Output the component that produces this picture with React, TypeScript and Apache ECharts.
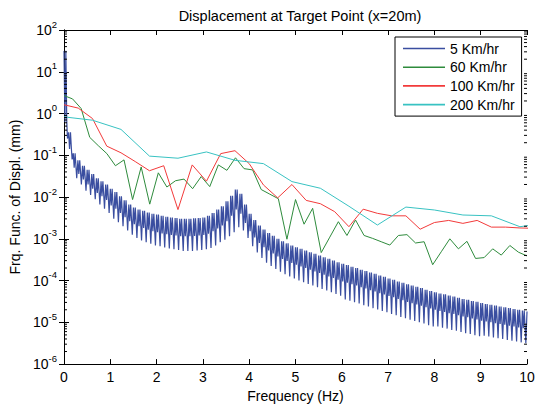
import React, { useEffect, useRef } from "react";
import * as echarts from "echarts";

// ---- Data (values stored as log10 of displacement in mm) ----
// 5 Km/hr: per 0.1 Hz period, upper edge of the band, lower edge of the band, and dip
const blueStep = 0.1;
const blueTopLog = [
  1.5, -0.45, -0.95, -1.12, -1.25, -1.35, -1.45, -1.55, -1.62, -1.7,
  -1.8, -1.88, -1.98, -2.08, -2.18, -2.25, -2.3, -2.33, -2.37, -2.4,
  -2.42, -2.45, -2.47, -2.49, -2.5, -2.52, -2.52, -2.52, -2.51, -2.5,
  -2.49, -2.45, -2.38, -2.3, -2.22, -2.1, -1.97, -1.82, -1.92, -2.18,
  -2.4, -2.55, -2.68, -2.78, -2.86, -2.93, -3.0, -3.06, -3.11, -3.16,
  -3.2, -3.24, -3.28, -3.32, -3.36, -3.4, -3.44, -3.48, -3.52, -3.56,
  -3.6, -3.63, -3.67, -3.7, -3.74, -3.77, -3.81, -3.84, -3.88, -3.91,
  -3.95, -3.98, -4.02, -4.05, -4.09, -4.12, -4.15, -4.18, -4.22, -4.25,
  -4.28, -4.31, -4.33, -4.36, -4.38, -4.41, -4.44, -4.46, -4.49, -4.51,
  -4.54, -4.56, -4.58, -4.6, -4.62, -4.64, -4.66, -4.68, -4.7, -4.72,
  -4.74,
];
const blueLowLog = [
  -0.2, -0.85, -1.3, -1.45, -1.58, -1.7, -1.8, -1.9, -1.98, -2.07,
  -2.2, -2.28, -2.38, -2.48, -2.58, -2.65, -2.7, -2.74, -2.78, -2.82,
  -2.84, -2.87, -2.89, -2.91, -2.92, -2.94, -2.94, -2.94, -2.93, -2.92,
  -2.91, -2.88, -2.82, -2.75, -2.68, -2.58, -2.45, -2.3, -2.4, -2.62,
  -2.82, -2.97, -3.1, -3.2, -3.28, -3.35, -3.42, -3.48, -3.53, -3.58,
  -3.62, -3.66, -3.7, -3.74, -3.78, -3.82, -3.86, -3.9, -3.94, -3.98,
  -4.02, -4.05, -4.09, -4.12, -4.16, -4.19, -4.23, -4.26, -4.3, -4.33,
  -4.37, -4.4, -4.44, -4.47, -4.51, -4.54, -4.57, -4.6, -4.64, -4.67,
  -4.7, -4.73, -4.75, -4.78, -4.8, -4.83, -4.86, -4.88, -4.91, -4.93,
  -4.96, -4.98, -5.0, -5.02, -5.04, -5.06, -5.08, -5.1, -5.12, -5.14,
];
const blueDipLog = [
  -0.6, -1.1, -1.55, -1.7, -1.85, -1.95, -2.05, -2.18, -2.28, -2.38,
  -2.52, -2.6, -2.7, -2.8, -2.9, -2.98, -3.04, -3.08, -3.12, -3.16,
  -3.18, -3.21, -3.23, -3.25, -3.27, -3.29, -3.29, -3.29, -3.28, -3.27,
  -3.25, -3.22, -3.16, -3.08, -3.02, -2.94, -2.84, -2.72, -2.8, -2.98,
  -3.18, -3.33, -3.46, -3.57, -3.65, -3.72, -3.79, -3.85, -3.9, -3.95,
  -4.0, -4.04, -4.08, -4.12, -4.16, -4.2, -4.24, -4.28, -4.32, -4.36,
  -4.45, -4.48, -4.52, -4.55, -4.59, -4.62, -4.66, -4.69, -4.73, -4.76,
  -4.8, -4.83, -4.87, -4.9, -4.94, -4.97, -5.0, -5.03, -5.07, -5.1,
  -5.1, -5.13, -5.15, -5.18, -5.2, -5.23, -5.26, -5.28, -5.31, -5.33,
  -5.32, -5.34, -5.36, -5.38, -5.4, -5.42, -5.44, -5.46, -5.48, -5.5,
];

// 60 Km/hr
const greenStep = 10 / 54;
const greenLog = [
  0.43, 0.35, 0.12, -0.57, -0.77, -0.96, -1.25, -1.11, -2.06, -1.28,
  -2.17, -1.42, -1.76, -1.61, -1.57, -1.8, -1.51, -1.75, -1.23, -1.36,
  -1.06, -1.32, -1.35, -1.82, -1.93, -2.04, -3.01, -2.06, -2.65, -2.27,
  -3.33, -2.96, -2.59, -2.92, -2.55, -2.92, -2.99, -3.07, -3.15, -2.92,
  -2.9, -3.1, -3.07, -3.62, -3.31, -3.0, -3.24, -3.06, -3.47, -3.45,
  -3.24, -3.39, -3.16, -3.32, -3.41,
];

// 100 Km/hr
const redStep = 4 / 13;
const redLog = [
  0.21, 0.13, -0.12, -0.78, -0.94, -1.15, -1.37, -1.25, -2.3, -1.23,
  -1.62, -0.96, -0.89, -1.2, -1.71, -2.02, -1.7, -2.08, -2.16, -2.35,
  -2.71, -2.29, -2.39, -2.45, -2.45, -2.77, -2.61, -2.56, -2.63, -2.56,
  -2.72, -2.72, -2.74, -2.75,
];

// 200 Km/hr
const cyanStep = 8 / 13;
const cyanLog = [
  -0.08, -0.16, -0.38, -1.02, -1.07, -0.92, -1.12, -1.2, -1.63, -1.79,
  -2.22, -2.67, -2.24, -2.31, -2.43, -2.45, -2.71, -2.62,
];

const seriesNames = ["5 Km/hr", "60 Km/hr", "100 Km/hr", "200 Km/hr"];
const seriesColors = ["#3a4ea0", "#2e8b3c", "#f23a3a", "#38c2c2"];
const xTicks = [0, 1, 2, 3, 4, 5, 6, 7, 8, 9, 10];
const yDecades = [-6, -5, -4, -3, -2, -1, 0, 1, 2];

const titleText = "Displacement at Target Point (x=20m)";
const xName = "Frequency (Hz)";
const yName = "Frq. Func. of Displ. (mm)";

const FONT = "'Liberation Sans', Arial, Helvetica, sans-serif";

function buildBlue(): number[][] {
  const out: number[][] = [];
  for (let k = 0; k < blueTopLog.length; k++) {
    const f = k * blueStep;
    out.push([f, Math.pow(10, blueTopLog[k])]);
    if (k < blueLowLog.length) {
      out.push([f + 0.02, Math.pow(10, blueLowLog[k])]);
      out.push([f + 0.04, Math.pow(10, blueTopLog[k])]);
      out.push([f + 0.06, Math.pow(10, blueLowLog[k])]);
      out.push([f + 0.075, Math.pow(10, blueDipLog[k])]);
    }
  }
  return out;
}

function buildStepped(step: number, logs: number[]): number[][] {
  return logs.map((v, i) => [i * step, Math.pow(10, v)]);
}

export default function App() {
  const ref = useRef<HTMLDivElement>(null);

  useEffect(() => {
    if (!ref.current) return;
    const chart = echarts.init(ref.current, undefined, { renderer: "svg" });

    const xMin = xTicks[0];
    const xMax = xTicks[xTicks.length - 1];
    const yMin = Math.pow(10, yDecades[0]);
    const yMax = Math.pow(10, yDecades[yDecades.length - 1]);

    const minorTicks: number[][] = [];
    for (let i = 0; i < yDecades.length - 1; i++) {
      for (let m = 2; m <= 9; m++) {
        minorTicks.push([xMin, m * Math.pow(10, yDecades[i])]);
      }
    }

    const labelFmt = (v: number) => {
      const e = Math.round(Math.log10(v));
      return `{b|10}{s|${e}}`;
    };

    const lineSeries = [
      { name: seriesNames[0], data: buildBlue(), width: 1.2 },
      { name: seriesNames[1], data: buildStepped(greenStep, greenLog), width: 1 },
      { name: seriesNames[2], data: buildStepped(redStep, redLog), width: 1 },
      { name: seriesNames[3], data: buildStepped(cyanStep, cyanLog), width: 1 },
    ].map((s, i) => ({
      type: "line" as const,
      name: s.name,
      data: s.data,
      symbol: "none",
      showSymbol: false,
      xAxisIndex: 0,
      yAxisIndex: 0,
      color: seriesColors[i],
      lineStyle: { color: seriesColors[i], width: s.width },
      z: 2 + (i === 0 ? 0 : 1),
      clip: true,
    }));

    const commonY = {
      type: "log" as const,
      logBase: 10,
      min: yMin,
      max: yMax,
      splitNumber: 8,
      splitLine: { show: false },
      axisLine: { show: true, lineStyle: { color: "#000", width: 1 } },
      axisTick: { show: true, inside: true, length: 5, lineStyle: { color: "#000" } },
    };
    const commonX = {
      type: "value" as const,
      min: xMin,
      max: xMax,
      interval: 1,
      splitLine: { show: false },
      axisLine: { show: true, onZero: false, lineStyle: { color: "#000", width: 1 } },
      axisTick: { show: true, inside: true, length: 5, lineStyle: { color: "#000" } },
    };

    chart.setOption({
      animation: false,
      backgroundColor: "#fff",
      textStyle: { fontFamily: FONT },
      title: {
        text: titleText,
        left: 295,
        top: 3,
        textAlign: "center",
        textStyle: { fontSize: 14.5, fontWeight: "normal", color: "#000", fontFamily: FONT },
      },
      grid: { left: 64, right: 12, top: 30, bottom: 38, containLabel: false },
      legend: {
        orient: "vertical",
        left: 395,
        top: 37,
        data: seriesNames,
        icon: "rect",
        itemWidth: 42,
        itemHeight: 1.6,
        itemGap: 4.7,
        padding: [4.5, 7, 4.5, 8],
        borderColor: "#000",
        borderWidth: 1,
        backgroundColor: "#fff",
        textStyle: { fontSize: 14, lineHeight: 14, color: "#000", fontFamily: FONT },
      },
      xAxis: [
        {
          ...commonX,
          position: "bottom",
          name: xName,
          nameLocation: "middle",
          nameGap: 19,
          nameTextStyle: { fontSize: 14, color: "#000", fontFamily: FONT },
          axisLabel: { show: true, fontSize: 14, color: "#000", margin: 6, fontFamily: FONT },
        },
        { ...commonX, position: "top", axisLabel: { show: false } },
      ],
      yAxis: [
        {
          ...commonY,
          position: "left",
          name: yName,
          nameLocation: "middle",
          nameGap: 34,
          nameTextStyle: { fontSize: 14, color: "#000", fontFamily: FONT },
          axisLabel: {
            show: true,
            margin: 7,
            color: "#000",
            formatter: labelFmt,
            rich: {
              b: { fontSize: 14, color: "#000", fontFamily: FONT, verticalAlign: "middle" },
              s: {
                fontSize: 9.5,
                color: "#000",
                fontFamily: FONT,
                verticalAlign: "middle",
                padding: [0, 0, 12, 0],
              },
            },
          },
        },
        { ...commonY, position: "right", axisLabel: { show: false } },
      ],
      series: [
        ...lineSeries,
        {
          type: "custom",
          xAxisIndex: 0,
          yAxisIndex: 0,
          silent: true,
          z: 10,
          clip: false,
          data: minorTicks,
          renderItem: (_params: any, api: any) => {
            const v = api.value(1);
            const l = api.coord([xMin, v]);
            const r = api.coord([xMax, v]);
            return {
              type: "group",
              children: [
                {
                  type: "line",
                  shape: { x1: l[0], y1: l[1], x2: l[0] + 3, y2: l[1] },
                  style: { stroke: "#000", lineWidth: 1 },
                },
                {
                  type: "line",
                  shape: { x1: r[0] - 3, y1: r[1], x2: r[0], y2: r[1] },
                  style: { stroke: "#000", lineWidth: 1 },
                },
              ],
            };
          },
        },
      ],
    });

    return () => chart.dispose();
  }, []);

  return (
    <div
      ref={ref}
      style={{ position: "fixed", left: 0, top: 0, width: 539, height: 408, background: "#fff" }}
    />
  );
}
